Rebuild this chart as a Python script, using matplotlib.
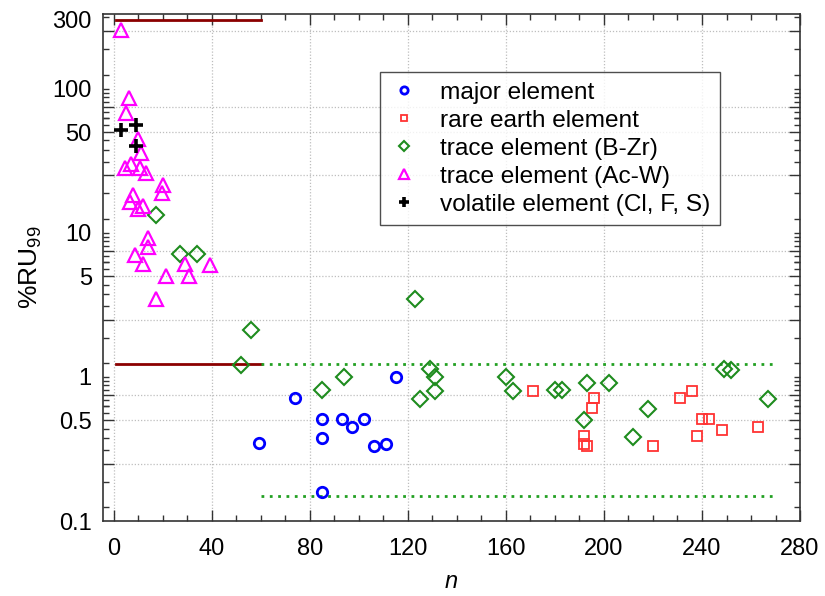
import numpy as np
import matplotlib
matplotlib.use("Agg")
import matplotlib.pyplot as plt
from matplotlib.ticker import FixedLocator, FixedFormatter, NullFormatter

plt.rcParams['font.family'] = ['Liberation Sans', 'DejaVu Sans']
plt.rcParams['mathtext.fontset'] = 'custom'
plt.rcParams['mathtext.rm'] = 'Liberation Sans'
plt.rcParams['mathtext.it'] = 'Liberation Sans:italic'

# ---- data: relative uncertainty (%RU99) vs. number of results n ----
major_n = [74, 59, 85, 85, 85, 93, 97, 102, 106, 111, 115]
major_ru = [0.71, 0.35, 0.51, 0.375, 0.16, 0.51, 0.45, 0.51, 0.33, 0.34, 1.0]

ree_n = [171, 196, 195, 192, 192, 193, 220, 231, 236, 238, 240, 243, 248, 263]
ree_ru = [0.80, 0.71, 0.61, 0.39, 0.34, 0.33, 0.33, 0.71, 0.80, 0.39, 0.51,
          0.51, 0.43, 0.45]

trace_bz_n = [17, 27, 34, 56, 52, 85, 123, 94, 129, 131, 131, 125, 160, 163,
              180, 183, 193, 202, 192, 212, 218, 249, 252, 267]
trace_bz_ru = [13.3, 7.15, 7.15, 2.12, 1.21, 0.81, 3.48, 1.0, 1.13, 1.0, 0.80,
               0.70, 1.0, 0.80, 0.81, 0.81, 0.91, 0.91, 0.50, 0.38, 0.60, 1.13,
               1.12, 0.70]

trace_acw_n = [3, 6, 5, 10, 11, 7, 4.5, 10.6, 13, 20, 19.4, 7.6, 6.5, 11.7, 10,
               14, 14, 8.5, 11.7, 21.4, 29, 30.5, 39, 17]
trace_acw_ru = [257, 86, 68, 45, 36, 30, 28, 28, 26, 21.5, 19, 18.4, 16.3, 15.4,
                14.6, 9.2, 8.0, 7.0, 6.1, 5.0, 6.1, 5.0, 6.0, 3.5]

volatile_n = [3, 9, 9]
volatile_ru = [52, 56, 40]

# acceptance limits: small-n range and large-n range
limit_small_n = [1, 60]
limit_small_upper = 300
limit_small_lower = 1.23
limit_large_n = [60, 269]
limit_large_upper = 1.23
limit_large_lower = 0.15

ytick_labels = [0.1, 0.5, 1, 5, 10, 50, 100, 300]
xtick_labels = [0, 40, 80, 120, 160, 200, 240, 280]

# ---- figure ----
fig = plt.figure(figsize=(8.25, 5.96), dpi=100)
ax = fig.add_axes([0.1248, 0.1258, 0.8449, 0.8507])
ax.set_yscale('log')
ax.set_xlim(-4.5, 280)
ax.set_ylim(0.1, 330)

red_dark = '#8B0000'
green_dot = '#22A022'
ax.plot(limit_small_n, [limit_small_upper] * 2, color=red_dark, lw=2, zorder=2)
ax.plot(limit_small_n, [limit_small_lower] * 2, color=red_dark, lw=2, zorder=2)
ax.plot(limit_large_n, [limit_large_upper] * 2, color=green_dot, lw=2,
        ls=(0, (1, 2)), zorder=2)
ax.plot(limit_large_n, [limit_large_lower] * 2, color=green_dot, lw=2,
        ls=(0, (1, 2)), zorder=2)

ax.plot(major_n, major_ru, ls='none', marker='o', ms=7.5, mfc='none',
        mec='#0000FF', mew=2, label='major element', zorder=3)
ax.plot(ree_n, ree_ru, ls='none', marker='s', ms=7, mfc='none',
        mec='#FF3333', mew=1.3, label='rare earth element', zorder=3)
ax.plot(trace_bz_n, trace_bz_ru, ls='none', marker='D', ms=8, mfc='none',
        mec='#1E8C1E', mew=1.5, label='trace element (B-Zr)', zorder=3)
ax.plot(trace_acw_n, trace_acw_ru, ls='none', marker='^', ms=9.5, mfc='none',
        mec='#FF00FF', mew=1.6, label='trace element (Ac-W)', zorder=3)
ax.plot(volatile_n, volatile_ru, ls='none', marker='+', ms=10, mec='black',
        mew=2.6, label='volatile element (Cl, F, S)', zorder=4)

# ---- y ticks: long marks + grid at 2.5/5/7.5 per decade, short marks at 1/16 ----
grid_y = []
minor_y = []
for base in [0.1, 1, 10, 100]:
    for m in range(1, 17):
        v = round(m * 0.0625 * base * 10, 10)
        if v < 0.1 or v > 330:
            continue
        if m % 4 == 0 and m != 16:
            grid_y.append(v)
        else:
            minor_y.append(v)
ax.yaxis.set_major_locator(FixedLocator(grid_y))
ax.yaxis.set_minor_locator(FixedLocator(minor_y))
ax.yaxis.set_major_formatter(NullFormatter())
ax.yaxis.set_minor_formatter(NullFormatter())

ax.xaxis.set_major_locator(FixedLocator(np.arange(0, 281, 40)))
ax.xaxis.set_minor_locator(FixedLocator(np.arange(0, 281, 10)))
ax.set_xticklabels([str(v) for v in xtick_labels], fontsize=17)

ax.tick_params(axis='both', which='both', direction='in', top=True,
               right=True, color='#333333', width=1)
ax.tick_params(axis='y', which='major', length=8)
ax.tick_params(axis='y', which='minor', length=4)
ax.tick_params(axis='x', which='major', length=8, pad=12)
ax.tick_params(axis='x', which='minor', length=4)

ax.grid(True, which='major', color='#BEBEBE', ls=(0, (1, 1.5)), lw=0.9)
ax.set_axisbelow(True)
for sp in ax.spines.values():
    sp.set_color('#333333')
    sp.set_linewidth(1.2)

# labelled values on the left edge
sec = ax.secondary_yaxis('left')
sec.yaxis.set_major_locator(FixedLocator(ytick_labels))
sec.yaxis.set_major_formatter(FixedFormatter([f'{v:g}' for v in ytick_labels]))
sec.yaxis.set_minor_locator(FixedLocator([]))
sec.tick_params(axis='y', which='both', length=0, labelsize=17, pad=8)
sec.spines['left'].set_visible(False)

ax.set_xlabel(r'$\it{n}$', fontsize=17, labelpad=8)
sec.set_ylabel(r'%RU$_{99}$', fontsize=19, labelpad=6)

leg = ax.legend(loc='upper left', bbox_to_anchor=(0.397, 0.885), fontsize=17.6,
                frameon=True, fancybox=False, edgecolor='#222222',
                markerscale=0.7, handlelength=1.2, handletextpad=0.9,
                borderpad=0.38, labelspacing=0.24, borderaxespad=0)
leg.get_frame().set_linewidth(1.0)

fig.savefig('out.png', dpi=100)
